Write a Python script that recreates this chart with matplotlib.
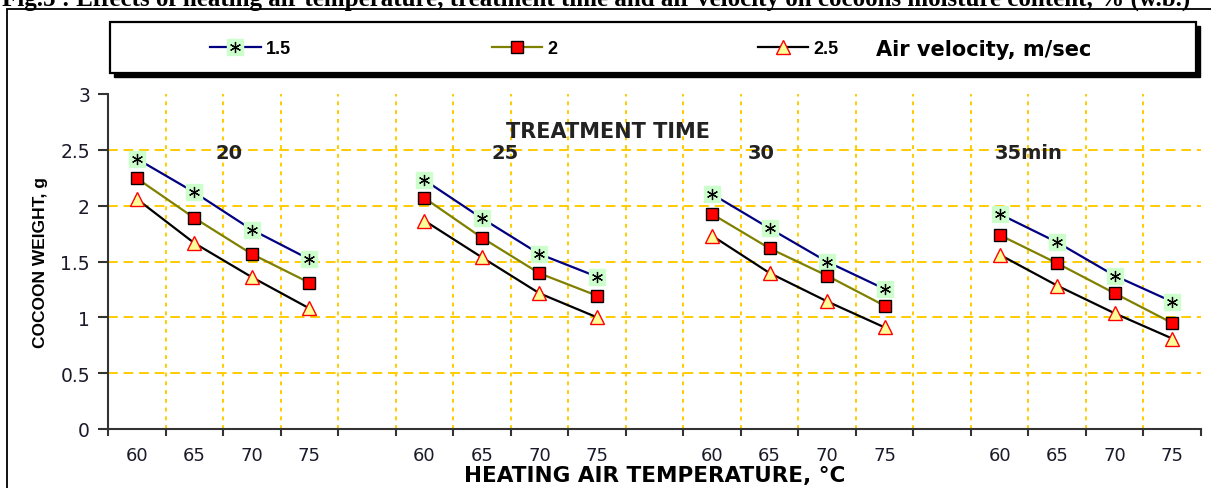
import matplotlib
matplotlib.use('Agg')
import matplotlib.pyplot as plt
from matplotlib.patches import Rectangle
from matplotlib.legend_handler import HandlerTuple
import numpy as np

# data
temps = ['60', '65', '70', '75']
times = ['20', '25', '30', '35min']
v15 = [[2.42, 2.12, 1.785, 1.52],
       [2.23, 1.887, 1.567, 1.364],
       [2.104, 1.797, 1.498, 1.254],
       [1.925, 1.672, 1.373, 1.14]]
v20 = [[2.245, 1.89, 1.567, 1.31],
       [2.069, 1.713, 1.394, 1.194],
       [1.925, 1.618, 1.373, 1.104],
       [1.737, 1.484, 1.215, 0.949]]
v25 = [[2.06, 1.665, 1.36, 1.08],
       [1.866, 1.537, 1.215, 1.0],
       [1.731, 1.397, 1.143, 0.91],
       [1.561, 1.284, 1.036, 0.81]]
time_label_pos = [(1.6, 2.48), (6.4, 2.48), (10.85, 2.48), (15.5, 2.48)]

plt.rcParams.update({'font.family': 'DejaVu Sans', 'font.size': 13})

n_cat = 19
def spread(groups):
    out = np.full(n_cat, np.nan)
    for g, vals in enumerate(groups):
        for k, v in enumerate(vals):
            out[g * 5 + k] = v
    return out

x = np.arange(n_cat)
y15, y20, y25 = spread(v15), spread(v20), spread(v25)

fig = plt.figure(figsize=(12.11, 4.89), dpi=100)
W, H = 1211, 489
ax = fig.add_axes([108 / W, 1 - 430 / H, (1201 - 108) / W, (430 - 95) / H])

grid_c = '#FFCC00'
for yv in [0.5, 1, 1.5, 2, 2.5]:
    ax.axhline(yv, color=grid_c, lw=1.4, ls=(0, (5, 3)), zorder=1)
for xv in np.arange(0.5, 18, 1):
    ax.axvline(xv, color=grid_c, lw=1.4, ls=(0, (2, 2.5)), zorder=1)

l15, = ax.plot(x, y15, color='#000080', lw=1.6, marker='s', ms=12,
               mfc='#CCFFCC', mec='#CCFFCC', zorder=3)
s15, = ax.plot(x, y15, ls='none', marker=(6, 2, 0), ms=8, mec='black',
               mew=0.9, zorder=4)
l20, = ax.plot(x, y20, color='#808000', lw=1.6, marker='s', ms=9,
               mfc='#FF0000', mec='black', mew=1.0, zorder=3)
l25, = ax.plot(x, y25, color='black', lw=1.6, marker='^', ms=10,
               mfc='#FFFF99', mec='#FF0000', mew=1.0, zorder=3)

ax.set_xlim(-0.5, 18.5)
ax.set_ylim(0, 3)
ax.set_yticks([0, 0.5, 1, 1.5, 2, 2.5, 3])
ax.set_yticklabels(['0', '0.5', '1', '1.5', '2', '2.5', '3'])
ax.set_xticks(np.arange(-0.5, 19, 1))
ax.set_xticklabels([])
centers = [g * 5 + k for g in range(4) for k in range(4)]
ax.set_xticks(centers, minor=True)
ax.set_xticklabels(temps * 4, minor=True)
ax.tick_params(axis='x', which='minor', length=0, pad=12, labelcolor='#1a1a2a',
               labelsize=13)
ax.tick_params(axis='x', which='major', length=5, width=1.5, color='#333333', direction='out')
ax.tick_params(axis='y', length=7, width=1.5, color='#333333', pad=6,
               labelcolor='#1a1a2a', labelsize=13.5)

for s in ['top', 'right']:
    ax.spines[s].set_visible(False)
for s in ['left', 'bottom']:
    ax.spines[s].set_color('#333333')
    ax.spines[s].set_linewidth(1.5)
ax.set_facecolor('none')

ax.set_ylabel('COCOON WEIGHT, g', fontsize=12.5, fontweight='bold',
              family='Liberation Sans', labelpad=9)
ax.set_xlabel('HEATING AIR TEMPERATURE, °C', fontsize=15.5, fontweight='bold',
              labelpad=1)

ax.text(8.2, 2.67, 'TREATMENT TIME', ha='center', va='center',
        fontsize=15, fontweight='bold', color='#222222')
for (tx, ty), lab in zip(time_label_pos, times):
    ax.text(tx, ty, lab, ha='center', va='center', fontsize=14,
            fontweight='bold', color='#222222')

# outer frame
fig.patches.append(Rectangle((7 / W, -0.1), 1.2, 1 - 10 / H + 0.1,
                             transform=fig.transFigure, fill=False,
                             ec='black', lw=1.3, zorder=0))
# legend box with shadow
fig.patches.append(Rectangle((114 / W, 1 - 78 / H), (1200 - 114) / W, 51 / H,
                             transform=fig.transFigure, fc='black', ec='black', zorder=1))
fig.patches.append(Rectangle((110 / W, 1 - 74 / H), (1196 - 110) / W, 51 / H,
                             transform=fig.transFigure, fc='white', ec='black',
                             lw=1.6, zorder=2))

leg = fig.legend([(l15, s15), l20, l25], ['1.5', '2', '2.5'],
                 handler_map={tuple: HandlerTuple(ndivide=1, pad=0)},
                 loc='center left', bbox_to_anchor=(210 / W, 1 - 50 / H),
                 ncol=3, frameon=False, borderpad=0, borderaxespad=0,
                 handlelength=2.8, handletextpad=0.3, columnspacing=11.1,
                 prop={'family': 'Liberation Sans', 'weight': 'bold', 'size': 13})
leg.set_zorder(5)
fig.text(876 / W, 1 - 50 / H, 'Air velocity, m/sec', ha='left', va='center',
         fontsize=15, fontweight='bold', zorder=6)

fig.text(2 / W, 1 - 6 / H,
         'Fig.5 : Effects of heating air temperature, treatment time and air velocity on cocoons moisture content, % (w.b.)',
         ha='left', va='baseline', fontsize=18, fontweight='bold',
         family='Liberation Serif')

fig.savefig('out.png', dpi=100)
